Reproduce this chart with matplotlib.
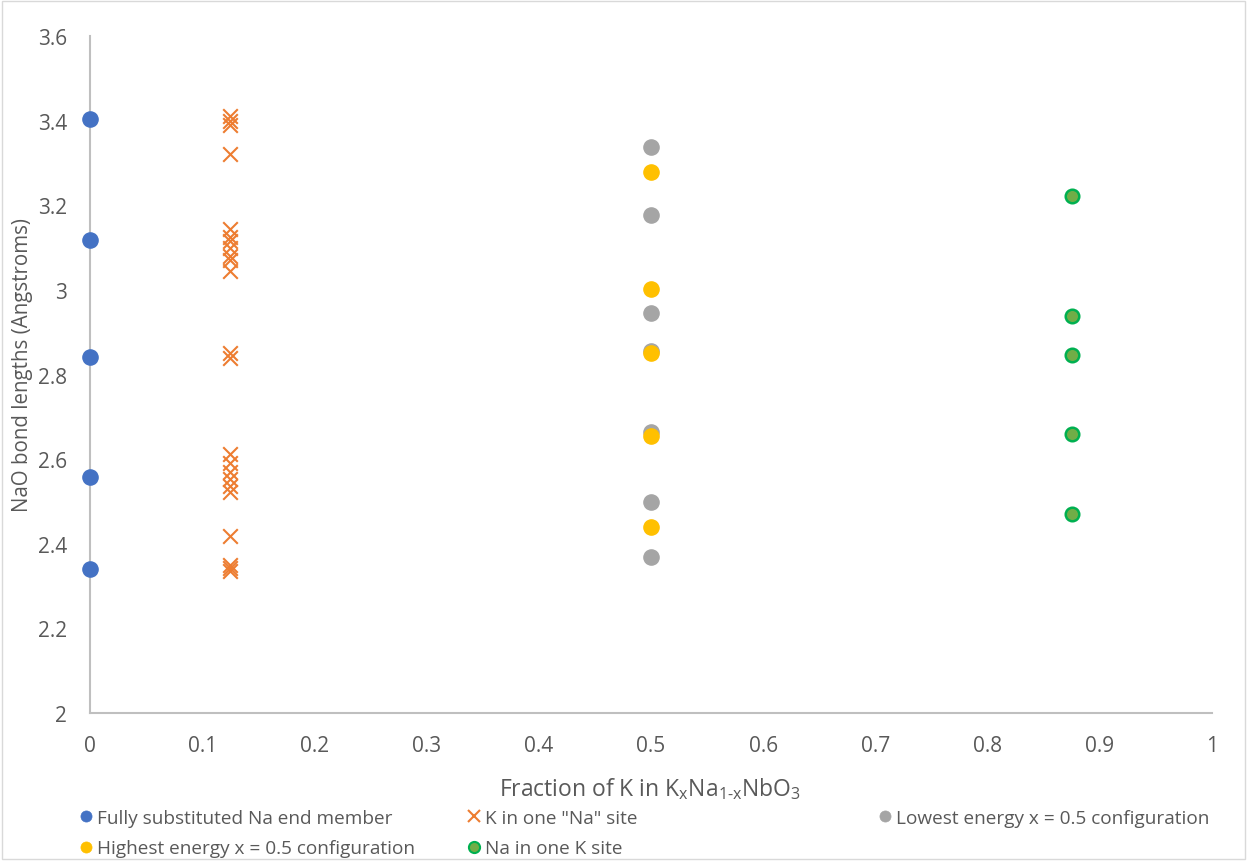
import matplotlib
matplotlib.use("Agg")
import matplotlib.pyplot as plt
from matplotlib.patches import Rectangle
from matplotlib.lines import Line2D
from matplotlib.ticker import FuncFormatter, MultipleLocator

plt.rcParams['font.family'] = ['Open Sans', 'DejaVu Sans']
plt.rcParams['mathtext.fontset'] = 'custom'
plt.rcParams['mathtext.rm'] = 'Open Sans'

# 数据
x_full = [0, 0, 0, 0, 0]
y_full = [3.404, 3.118, 2.841, 2.558, 2.340]

x_k = [0.125] * 23
y_k = [3.41, 3.40, 3.39, 3.321, 3.145, 3.125, 3.115, 3.10, 3.08, 3.07, 3.045,
       2.851, 2.838, 2.612, 2.590, 2.570, 2.553, 2.537, 2.522, 2.418, 2.350,
       2.342, 2.335]

x_low = [0.5] * 7
y_low = [3.338, 3.177, 2.945, 2.856, 2.664, 2.499, 2.369]

x_high = [0.5] * 5
y_high = [3.279, 3.002, 2.851, 2.655, 2.440]

x_na = [0.875] * 5
y_na = [3.222, 2.938, 2.846, 2.659, 2.470]

labels = ['Fully substituted Na end member', 'K in one "Na" site',
          'Lowest energy x = 0.5 configuration', 'Highest energy x = 0.5 configuration',
          'Na in one K site']

fig = plt.figure(figsize=(12.47, 8.62), dpi=100)
ax = fig.add_axes([90/1247, 1-714/862, (1212-90)/1247, (714-37)/862])

ax.scatter(x_full, y_full, s=120, color='#4472C4', zorder=3, clip_on=False)
ax.scatter(x_k, y_k, s=110, marker='x', color='#ED7D31', linewidths=1.5, zorder=3)
ax.scatter(x_low, y_low, s=120, color='#A5A5A5', zorder=3)
ax.scatter(x_high, y_high, s=120, color='#FFC000', zorder=3)
ax.scatter(x_na, y_na, s=95, color='#70AD47', edgecolors='#00B050', linewidths=1.8, zorder=3)

ax.set_xlim(0, 1)
ax.set_ylim(2, 3.6)
ax.xaxis.set_major_locator(MultipleLocator(0.1))
ax.yaxis.set_major_locator(MultipleLocator(0.2))
fmt = FuncFormatter(lambda v, p: '%g' % round(v, 2))
ax.xaxis.set_major_formatter(fmt)
ax.yaxis.set_major_formatter(fmt)
ax.tick_params(axis='both', length=0, colors='#595959', labelsize=15)
ax.tick_params(axis='x', pad=16)
ax.tick_params(axis='y', pad=16.5)

# 坐标轴颜色
for s in ['top', 'right']:
    ax.spines[s].set_visible(False)
for s in ['left', 'bottom']:
    ax.spines[s].set_color('#BFBFBF')
    ax.spines[s].set_linewidth(1.5)

fig.text(650/1247, 1-789/862, r'Fraction of K in K$_\mathregular{x}$Na$_\mathregular{1\text{-}x}$NbO$_\mathregular{3}$',
         ha='center', va='center', fontsize=16.5, color='#595959')
fig.text(23/1247, 1-365/862, 'NaO bond lengths (Angstroms)', rotation=90,
         ha='center', va='center', fontsize=14.8, color='#595959')

# 图例（三列，手动放置）
def h(color, marker='o', edge=None):
    return Line2D([], [], linestyle='none', marker=marker, markersize=8,
                  color=color, markeredgecolor=edge if edge else color,
                  markeredgewidth=1.5 if marker == 'x' or edge else 0.5)

cols = [
    ([h('#4472C4'), h('#FFC000')], [labels[0], labels[3]], 80),
    ([h('#ED7D31', 'x'), h('#70AD47', edge='#00B050')], [labels[1], labels[4]], 468),
    ([h('#A5A5A5')], [labels[2]], 879),
]
for handles, labs, xpx in cols:
    fig.legend(handles, labs, loc='upper left', bbox_to_anchor=(xpx/1247, 1-810/862),
               frameon=False, fontsize=13.7, labelcolor='#595959', handlelength=0.6,
               handletextpad=0.3, borderpad=0, borderaxespad=0, labelspacing=0.65)

fig.add_artist(Rectangle((0.002, 0.002), 0.996, 0.996, transform=fig.transFigure,
                         fill=False, edgecolor='#D9D9D9', linewidth=1))

plt.savefig('out.png', dpi=100)
